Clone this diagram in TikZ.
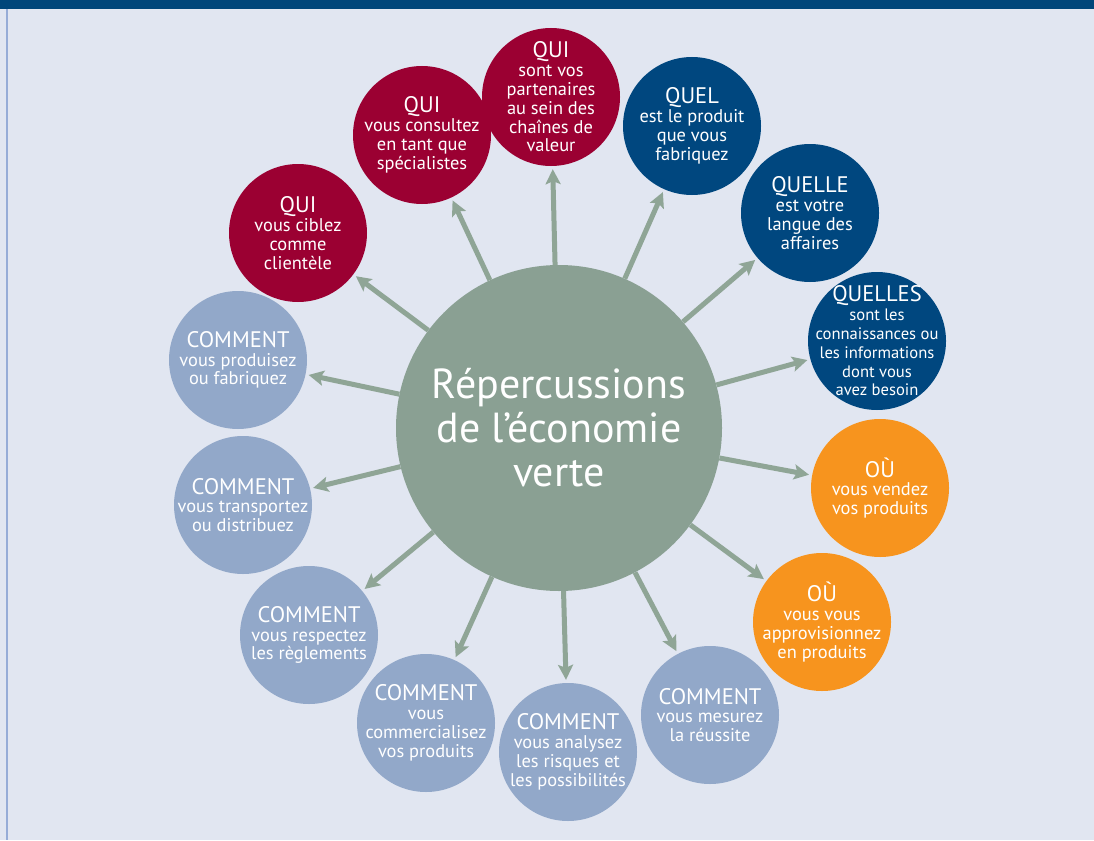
\documentclass[tikz,border=0pt]{standalone}
\usepackage{fontspec}
\setmainfont{PT Sans}
\usetikzlibrary{arrows.meta}

\definecolor{fond}{RGB}{225,230,241}
\definecolor{bandeau}{RGB}{0,70,122}
\definecolor{filet}{RGB}{150,172,215}
\definecolor{cramoisi}{RGB}{155,0,50}
\definecolor{bleufonce}{RGB}{0,71,127}
\definecolor{orangevif}{RGB}{247,148,30}
\definecolor{bleuclair}{RGB}{146,168,201}
\definecolor{vertgris}{RGB}{138,160,147}
\definecolor{flechevert}{RGB}{143,165,150}

\newcommand{\entete}[1]{{\fontsize{22.5}{19}\selectfont #1}}

\begin{document}
\begin{tikzpicture}[
  x=1pt, y=-1pt,
  every node/.style={align=center, text=white, font=\fontsize{18.4}{18.8}\selectfont},
  bulle/.style={circle, inner sep=-15pt, minimum size=138pt},
  qui/.style={bulle, fill=cramoisi},
  quel/.style={bulle, fill=bleufonce},
  ou/.style={bulle, fill=orangevif},
  comment/.style={bulle, fill=bleuclair},
  eco/.style={circle, inner sep=0pt, minimum size=326pt, fill=vertgris, font=\fontsize{42}{44}\selectfont},
  fleche/.style={->, line width=5pt, draw=flechevert, shorten >=3pt},
  >={Stealth[length=15pt, width=15pt, inset=3pt]}
]

% fond et bandeau
\useasboundingbox (0,0) rectangle (1094,840);
\fill[fond] (0,0) rectangle (1094,840);
\fill[bandeau] (0,0) rectangle (1094,9);
\draw[filet, line width=1.5pt] (7,9) -- (7,840);

% cercle central
\node[eco] (eco) at (559,428) {Répercussions\\de l’économie\\verte};

% QUI
\node[qui] (partenaires) at (551,97) {\entete{QUI}\\sont vos\\partenaires\\au sein des\\chaînes de\\valeur};
\node[qui] (specialistes) at (422,135) {\entete{QUI}\\vous consultez\\en tant que\\spécialistes};
\node[qui] (clientele) at (298,233) {\entete{QUI}\\vous ciblez\\comme\\clientèle};

% QUEL, QUELLE, QUELLES
\node[quel] (produit) at (692,126) {\entete{QUEL}\\est le produit\\que vous\\fabriquez};
\node[quel] (langue) at (810,213) {\entete{QUELLE}\\est votre\\langue des\\affaires};
\node[quel, font=\fontsize{16.6}{18.8}\selectfont] (connaissances) at (877,341) {\entete{QUELLES}\\sont les\\connaissances ou\\les informations\\dont vous\\avez besoin};

% OÙ
\node[ou] (vendez) at (880,488) {\entete{OÙ}\\vous vendez\\vos produits};
\node[ou] (approvisionnez) at (822,622) {\entete{OÙ}\\vous vous\\approvisionnez\\en produits};

% COMMENT
\node[comment] (mesurez) at (710,715) {\entete{COMMENT}\\vous mesurez\\la réussite};
\node[comment] (analysez) at (568,752) {\entete{COMMENT}\\vous analysez\\les risques et\\les possibilités};
\node[comment] (commercialisez) at (426,723) {\entete{COMMENT}\\vous\\commercialisez\\vos produits};
\node[comment] (respectez) at (309,635) {\entete{COMMENT}\\vous respectez\\les règlements};
\node[comment] (transportez) at (243,505) {\entete{COMMENT}\\vous transportez\\ou distribuez};
\node[comment] (produisez) at (238,360) {\entete{COMMENT}\\vous produisez\\ou fabriquez};

% flèches
\draw[fleche] (eco) -- (partenaires);
\draw[fleche] (eco) -- (specialistes);
\draw[fleche] (eco) -- (clientele);
\draw[fleche] (eco) -- (produit);
\draw[fleche] (eco) -- (langue);
\draw[fleche] (eco) -- (connaissances);
\draw[fleche] (eco) -- (vendez);
\draw[fleche] (eco) -- (approvisionnez);
\draw[fleche] (eco) -- (mesurez);
\draw[fleche] (eco) -- (analysez);
\draw[fleche] (eco) -- (commercialisez);
\draw[fleche] (eco) -- (respectez);
\draw[fleche] (eco) -- (transportez);
\draw[fleche] (eco) -- (produisez);

\end{tikzpicture}
\end{document}
